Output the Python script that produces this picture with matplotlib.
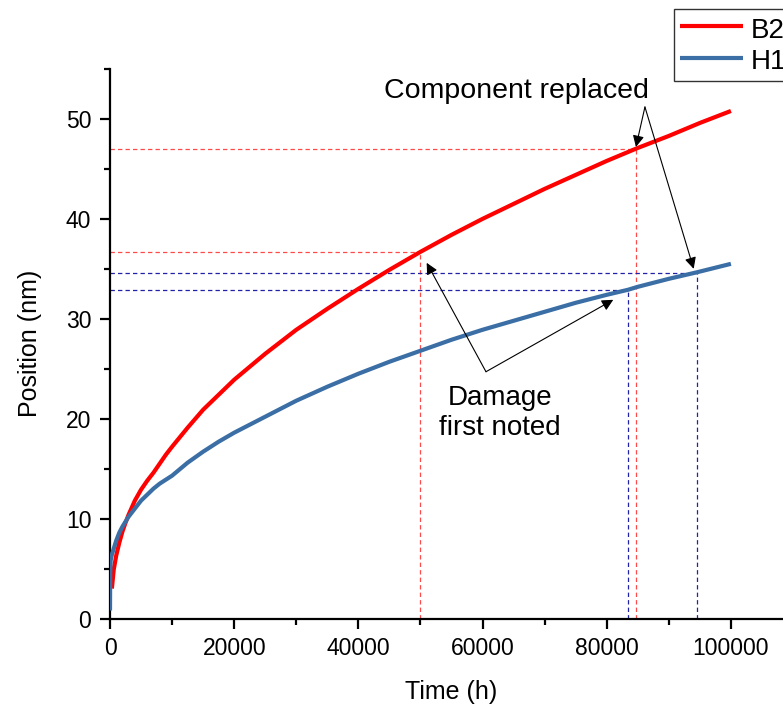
import matplotlib
matplotlib.use("Agg")
import matplotlib.pyplot as plt
from matplotlib.ticker import MultipleLocator

plt.rcParams['font.family'] = ['Liberation Sans', 'DejaVu Sans']

# Position vs. time for the two components
time_b2 = [300, 600, 1000, 1500, 2000, 2500, 3000, 4000, 5000, 6000, 7000, 8000,
           9000, 10000, 12500, 15000, 17500, 20000, 22500, 25000, 27500, 30000,
           35000, 40000, 45000, 50000, 55000, 60000, 65000, 70000, 75000, 80000,
           85000, 90000, 95000, 100000]
pos_b2 = [3.0, 4.9, 6.3, 7.6, 8.7, 9.6, 10.4, 11.8, 12.9, 13.8, 14.6, 15.5,
          16.4, 17.2, 19.1, 20.9, 22.4, 23.9, 25.2, 26.5, 27.7, 28.9,
          31.0, 33.0, 34.9, 36.7, 38.4, 40.0, 41.5, 43.0, 44.4, 45.8,
          47.1, 48.3, 49.6, 50.8]

time_h1 = [0, 30, 100, 300, 600, 1000, 1500, 2000, 2500, 3000, 4000, 5000, 6000,
           7000, 8000, 9000, 10000, 12500, 15000, 17500, 20000, 22500, 25000,
           27500, 30000, 35000, 40000, 45000, 50000, 55000, 60000, 65000, 70000,
           75000, 80000, 83400, 85000, 90000, 94500, 100000]
pos_h1 = [0.8, 4.5, 5.8, 6.4, 7.0, 7.8, 8.6, 9.2, 9.7, 10.2, 11.0, 11.8, 12.4,
          13.0, 13.5, 13.9, 14.3, 15.6, 16.7, 17.7, 18.6, 19.4, 20.2,
          21.0, 21.8, 23.2, 24.5, 25.7, 26.8, 27.9, 28.9, 29.8, 30.7,
          31.6, 32.4, 32.9, 33.2, 34.0, 34.65, 35.5]

series_names = ["B2", "H1"]

# Reference markers: (time, position) for each event
b2_damage = (50000, 36.7)
b2_replaced = (84700, 47.0)
h1_damage = (83400, 32.85)
h1_replaced = (94500, 34.6)

RED = "#FF0000"
BLUE = "#3A6EA5"
RED_GUIDE = "#FF4A4A"
BLUE_GUIDE = "#2222A8"

fig = plt.figure(figsize=(7.83, 7.04), dpi=100)
ax = fig.add_axes([0.1405, 0.1214, 0.8723, 0.7806])

l1, = ax.plot(time_b2, pos_b2, color=RED, lw=3.0, solid_capstyle='butt',
              solid_joinstyle='round', zorder=3)
l2, = ax.plot(time_h1, pos_h1, color=BLUE, lw=3.0, solid_capstyle='butt',
              solid_joinstyle='round', zorder=3)

# Dashed guide lines from each event to the axes
guide = dict(lw=0.9, dashes=(3.5, 2.5), zorder=2)
for (tx, ty), c in [(b2_damage, RED_GUIDE), (b2_replaced, RED_GUIDE),
                    (h1_damage, BLUE_GUIDE), (h1_replaced, BLUE_GUIDE)]:
    ax.plot([0, tx], [ty, ty], color=c, **guide)
    ax.plot([tx, tx], [0, ty], color=c, **guide)

ax.set_xlim(0, 110000)
ax.set_ylim(0, 55)
ax.xaxis.set_major_locator(MultipleLocator(20000))
ax.xaxis.set_minor_locator(MultipleLocator(10000))
ax.yaxis.set_major_locator(MultipleLocator(10))
ax.yaxis.set_minor_locator(MultipleLocator(5))

for side in ['top', 'right']:
    ax.spines[side].set_visible(False)
for side in ['left', 'bottom']:
    ax.spines[side].set_linewidth(1.6)

ax.tick_params(which='major', direction='out', length=7.5, width=1.6,
               labelsize=16.5, pad=6)
ax.tick_params(which='minor', direction='out', length=4.5, width=1.6)

ax.set_xlabel("Time (h)", fontsize=18, labelpad=14)
ax.set_ylabel("Position (nm)", fontsize=18, labelpad=17)

arrow = dict(arrowstyle='-|>', color='black', lw=0.8, mutation_scale=17,
             shrinkA=0, shrinkB=0)

ax.text(65500, 52.8, "Component replaced", fontsize=20.5, ha='center', va='center')
start_rep = (86150, 51.2)
ax.annotate("", xy=(b2_replaced[0], b2_replaced[1] + 0.2), xytext=start_rep,
            arrowprops=arrow)
ax.annotate("", xy=(94000, 35.0), xytext=start_rep, arrowprops=arrow)

ax.text(62800, 20.6, "Damage\nfirst noted", fontsize=20, ha='center', va='center',
        multialignment='center', linespacing=1.2)
start_dmg = (60550, 24.7)
ax.annotate("", xy=(51000, 35.6), xytext=start_dmg, arrowprops=arrow)
ax.annotate("", xy=(81050, 31.9), xytext=start_dmg, arrowprops=arrow)

# Legend box runs past the right edge of the figure
leg = fig.legend([l1, l2], series_names, loc='upper left',
                 bbox_to_anchor=(674 / 783, 1 - 9 / 704), fontsize=20,
                 frameon=True, fancybox=False, shadow=False, framealpha=1,
                 edgecolor='#333333', handlelength=2.3, handletextpad=0.25,
                 handleheight=1.15, borderpad=0.2, labelspacing=0.08,
                 borderaxespad=0)
leg.get_frame().set_linewidth(1.0)

fig.savefig("out.png", dpi=100)
